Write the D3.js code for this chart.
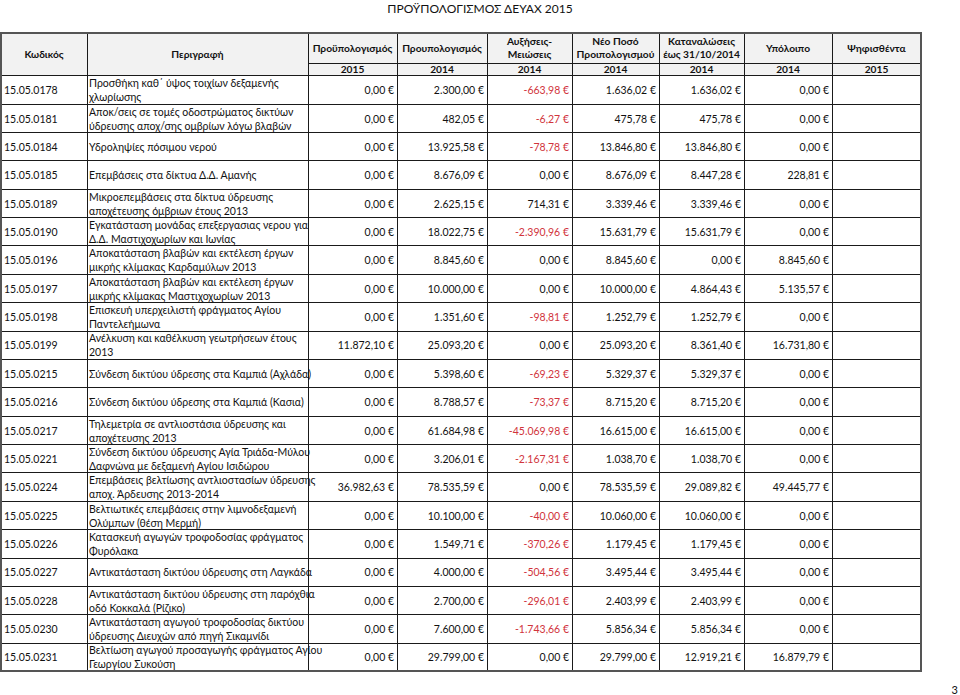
<!DOCTYPE html>
<html>
<head>
<meta charset="utf-8">
<script src="https://cdn.jsdelivr.net/npm/d3@7"></script>
<style>
  body { margin: 0; background: #fff; }
  text { font-family: Lato, "Open Sans", sans-serif; fill: #111; }
</style>
</head>
<body>
<script>
// table contents
var codes = ["15.05.0178", "15.05.0181", "15.05.0184", "15.05.0185", "15.05.0189", "15.05.0190",
  "15.05.0196", "15.05.0197", "15.05.0198", "15.05.0199", "15.05.0215", "15.05.0216",
  "15.05.0217", "15.05.0221", "15.05.0224", "15.05.0225", "15.05.0226", "15.05.0227",
  "15.05.0228", "15.05.0230", "15.05.0231"];

var descriptions = [
  "Προσθήκη καθ΄ ύψος τοιχίων δεξαμενής\nχλωρίωσης",
  "Αποκ/σεις σε τομές οδοστρώματος δικτύων\nύδρευσης αποχ/σης ομβρίων λόγω βλαβών",
  "Υδροληψίες πόσιμου νερού",
  "Επεμβάσεις στα δίκτυα Δ.Δ. Αμανής",
  "Μικροεπεμβάσεις στα δίκτυα ύδρευσης\nαποχέτευσης όμβριων έτους 2013",
  "Εγκατάσταση μονάδας επεξεργασιας νερου για\nΔ.Δ. Μαστιχοχωρίων και Ιωνίας",
  "Αποκατάσταση βλαβών και εκτέλεση έργων\nμικρής κλίμακας Καρδαμύλων 2013",
  "Αποκατάσταση βλαβών και εκτέλεση έργων\nμικρής κλίμακας Μαστιχοχωρίων 2013",
  "Επισκευή υπερχειλιστή φράγματος Αγίου\nΠαντελεήμωνα",
  "Ανέλκυση και καθέλκυση γεωτρήσεων έτους\n2013",
  "Σύνδεση δικτύου ύδρεσης στα Καμπιά (Αχλάδα)",
  "Σύνδεση δικτύου ύδρεσης στα Καμπιά (Κασια)",
  "Τηλεμετρία σε αντλιοστάσια ύδρευσης και\nαποχέτευσης 2013",
  "Σύνδεση δικτύου ύδρευσης Αγία Τριάδα-Μύλου\nΔαφνώνα με δεξαμενή Αγίου Ισιδώρου",
  "Επεμβάσεις βελτίωσης αντλιοστασίων ύδρευσης\nαποχ. Άρδευσης  2013-2014",
  "Βελτιωτικές επεμβάσεις στην λιμνοδεξαμενή\nΟλύμπων (θέση Μερμή)",
  "Κατασκευή αγωγών τροφοδοσίας φράγματος\nΦυρόλακα",
  "Αντικατάσταση δικτύου ύδρευσης στη Λαγκάδα",
  "Αντικατάσταση δικτύου ύδρευσης στη παρόχθια\nοδό Κοκκαλά (Ρίζικο)",
  "Αντικατάσταση αγωγού τροφοδοσίας δικτύου\nύδρευσης Διευχών από πηγή Σικαμνίδι",
  "Βελτίωση αγωγού προσαγωγής φράγματος Αγίου\nΓεωργίου Συκούση"
];

var budget2015 = [0, 0, 0, 0, 0, 0, 0, 0, 0, 11872.10, 0, 0, 0, 0, 36982.63, 0, 0, 0, 0, 0, 0];
var budget2014 = [2300.00, 482.05, 13925.58, 8676.09, 2625.15, 18022.75, 8845.60, 10000.00, 1351.60,
  25093.20, 5398.60, 8788.57, 61684.98, 3206.01, 78535.59, 10100.00, 1549.71, 4000.00, 2700.00, 7600.00, 29799.00];
var changes2014 = [-663.98, -6.27, -78.78, 0, 714.31, -2390.96, 0, 0, -98.81, 0, -69.23, -73.37,
  -45069.98, -2167.31, 0, -40.00, -370.26, -504.56, -296.01, -1743.66, 0];
var newBudget2014 = [1636.02, 475.78, 13846.80, 8676.09, 3339.46, 15631.79, 8845.60, 10000.00, 1252.79,
  25093.20, 5329.37, 8715.20, 16615.00, 1038.70, 78535.59, 10060.00, 1179.45, 3495.44, 2403.99, 5856.34, 29799.00];
var spent2014 = [1636.02, 475.78, 13846.80, 8447.28, 3339.46, 15631.79, 0, 4864.43, 1252.79,
  8361.40, 5329.37, 8715.20, 16615.00, 1038.70, 29089.82, 10060.00, 1179.45, 3495.44, 2403.99, 5856.34, 12919.21];
var remaining2014 = [0, 0, 0, 228.81, 0, 0, 8845.60, 5135.57, 0, 16731.80, 0, 0, 0, 0, 49445.77,
  0, 0, 0, 0, 0, 16879.79];
var approved2015 = codes.map(function() { return null; });

var headers = ["Κωδικός", "Περιγραφή", "Προϋπολογισμός", "Προυπολογισμός", "Αυξήσεις-\nΜειώσεις",
  "Νέο Ποσό\nΠροιπολογισμού", "Καταναλώσεις\nέως 31/10/2014", "Υπόλοιπο", "Ψηφισθέντα"];
var years = ["", "", "2015", "2014", "2014", "2014", "2014", "2014", "2015"];
var title = "ΠΡΟΫΠΟΛΟΓΙΣΜΟΣ ΔΕΥΑΧ 2015";

var width = 960, height = 695;
var colEdges = [1, 87, 308, 397, 487, 572, 659, 744, 832, 921];
var headTop = 33, headMid = 63, headBottom = 75.3, tableBottom = 671;

var svg = d3.select("body").append("svg")
  .attr("width", width)
  .attr("height", height);

var gr = d3.formatLocale({decimal: ",", thousands: ".", grouping: [3], currency: ["", " €"], minus: "-"});
var money = gr.format("$,.2f");

var y = d3.scaleLinear().domain([0, codes.length]).range([headBottom, tableBottom]);

var numeric = [budget2015, budget2014, changes2014, newBudget2014, spent2014, remaining2014, approved2015];

// title
svg.append("text")
  .attr("x", width / 2).attr("y", 13)
  .attr("text-anchor", "middle")
  .style("font-size", "12px")
  .text(title);

// header background
svg.append("rect")
  .attr("x", colEdges[0]).attr("y", headTop)
  .attr("width", colEdges[9] - colEdges[0]).attr("height", headBottom - headTop)
  .attr("fill", "#f2f2f2");

var grid = svg.append("g").attr("stroke", "#1a1a1a").attr("stroke-width", 1).attr("shape-rendering", "crispEdges");

// horizontal lines
var hLines = d3.range(codes.length + 1).map(function(i) { return y(i); });
grid.selectAll("line.h").data(hLines).enter().append("line")
  .attr("x1", colEdges[0]).attr("x2", colEdges[9])
  .attr("y1", function(d) { return Math.round(d) + 0.5; })
  .attr("y2", function(d) { return Math.round(d) + 0.5; });
grid.append("line")
  .attr("x1", colEdges[2]).attr("x2", colEdges[9])
  .attr("y1", headMid + 0.5).attr("y2", headMid + 0.5);

// vertical lines
grid.selectAll("line.v").data(colEdges.slice(1, 9)).enter().append("line")
  .attr("x1", function(d) { return d + 0.5; }).attr("x2", function(d) { return d + 0.5; })
  .attr("y1", headTop).attr("y2", tableBottom);

// outer frame
svg.append("rect")
  .attr("x", colEdges[0]).attr("y", headTop)
  .attr("width", colEdges[9] - colEdges[0]).attr("height", tableBottom - headTop)
  .attr("fill", "none").attr("stroke", "#555").attr("stroke-width", 2);

// header labels
var head = svg.append("g").style("font-weight", "bold").style("font-size", "10.2px");
headers.forEach(function(h, i) {
  var lines = h.split("\n");
  var cx = (colEdges[i] + colEdges[i + 1]) / 2;
  var cy = i < 2 ? (headTop + headBottom) / 2 : (headTop + headMid) / 2;
  var t = head.append("text").attr("text-anchor", "middle").attr("x", cx);
  lines.forEach(function(l, k) {
    t.append("tspan").attr("x", cx)
      .attr("y", cy + (k - (lines.length - 1) / 2) * 13)
      .attr("dy", "0.35em")
      .text(l);
  });
  if (years[i]) {
    head.append("text").attr("text-anchor", "middle")
      .attr("x", cx).attr("y", (headMid + headBottom) / 2 + 0.5).attr("dy", "0.35em")
      .text(years[i]);
  }
});

// body rows
var body = svg.append("g").style("font-size", "10.5px");
var rows = body.selectAll("g.row").data(codes).enter().append("g")
  .attr("class", "row")
  .attr("transform", function(d, i) { return "translate(0," + y(i) + ")"; });

var rowH = y(1) - y(0);

rows.append("text")
  .attr("x", colEdges[0] + 3).attr("y", rowH / 2 + 1).attr("dy", "0.35em")
  .text(function(d) { return d; });

rows.each(function(d, i) {
  var lines = descriptions[i].split("\n");
  var t = d3.select(this).append("text");
  lines.forEach(function(l, k) {
    t.append("tspan").attr("x", colEdges[1] + 2)
      .attr("y", rowH / 2 + 1 + (k - (lines.length - 1) / 2) * 14)
      .attr("dy", "0.35em")
      .text(l);
  });
});

numeric.forEach(function(series, c) {
  rows.filter(function(d, i) { return series[i] != null; })
    .append("text")
    .attr("x", colEdges[c + 3] - 3)
    .attr("y", rowH / 2 + 1).attr("dy", "0.35em")
    .attr("text-anchor", "end")
    .style("fill", function(d) { return series[codes.indexOf(d)] < 0 ? "#d1343c" : null; })
    .text(function(d) { return money(series[codes.indexOf(d)]); });
});

// page number
svg.append("text")
  .attr("x", 958).attr("y", 694)
  .attr("text-anchor", "end")
  .style("font-size", "11px")
  .text("3");
</script>
</body>
</html>
